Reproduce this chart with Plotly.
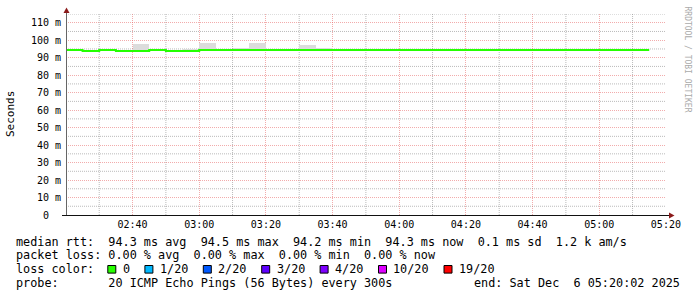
import plotly.graph_objects as go
import pandas as pd

# ---------------- data ----------------
interval_start = list(pd.date_range("2025-12-06 02:20:00", periods=35, freq="5min"))
N, L = 94.4, 93.8
median_ms = [N, L, N, L, L, N, L, L, N, N,
             N, N, N, N, N, N, N, N, N, N,
             N, N, N, N, N, N, N, N, N, N,
             N, N, N, N, N]
smoke_top_ms = [None, None, None, None, 97.6, None, None, 95.1, 98.2, 95.1,
                95.7, 98.2, None, None, 97.0, 95.7, None, None, 95.1, None,
                None, None, None, None, None, 95.1, None, None, 95.1, None,
                None, None, None, None, None]
y_tickvals = [0, 10, 20, 30, 40, 50, 60, 70, 80, 90, 100, 110]
y_ticktext = ["0\u00a0\u00a0"] + [f"{v}\u00a0m" for v in y_tickvals[1:]]
y_minor = [5, 15, 25, 35, 45, 55, 65, 75, 85, 95, 105, 115]
x_minor = list(pd.date_range("2025-12-06 02:30:00", "2025-12-06 05:10:00", freq="20min"))

stats_rows = [
    "median rtt:  94.3 ms avg  94.5 ms max  94.2 ms min  94.3 ms now  0.1 ms sd  1.2 k am/s",
    "packet loss: 0.00 % avg  0.00 % max  0.00 % min  0.00 % now",
]
loss_labels = ["0", "1/20", "2/20", "3/20", "4/20", "10/20", "19/20"]
loss_colors = ["#26ff00", "#00b8ff", "#0059ff", "#5e00ff", "#7e00ff", "#dd00ff", "#ff0000"]
probe_text = "probe:       20 ICMP Echo Pings (56 Bytes) every 300s"
end_text = "end: Sat Dec  6 05:20:02 2025"

# ---------------- layout geometry ----------------
W, H = 697, 297
ML, MR, MT, MB = 66, 31, 14, 82
PW, PH = W - ML - MR, H - MT - MB
FONT = "DejaVu Sans Mono"


def px(x):
    return (x - ML) / PW


def py(y):
    return (H - MB - y) / PH


def nb(s):
    return s.replace(" ", "\u00a0")


step = pd.Timedelta(minutes=5)
line_x = interval_start + [interval_start[-1] + step]
line_y = median_ms + [median_ms[-1]]

bx, bbase, bh = [], [], []
for t, m, s in zip(interval_start, median_ms, smoke_top_ms):
    if s is not None:
        bx.append(t + step / 2)
        bbase.append(m - 0.5)
        bh.append(s - m + 0.5)

fig = go.Figure()
fig.add_trace(go.Bar(x=bx, y=bh, base=bbase, width=300000,
                     marker=dict(color="#dcdcdc", line=dict(width=0)),
                     hoverinfo="skip", showlegend=False))
fig.add_trace(go.Scatter(x=line_x, y=line_y, mode="lines", line_shape="hv",
                         line=dict(color="#26ff00", width=2), showlegend=False))

minor_grid = "rgba(120,120,120,0.5)"
major_grid = "rgba(230,90,90,0.5)"

fig.update_layout(
    width=W, height=H, margin=dict(l=ML, r=MR, t=MT, b=MB),
    paper_bgcolor="white", plot_bgcolor="white",
    font=dict(family=FONT, size=10, color="#000"),
    xaxis=dict(type="date", range=["2025-12-06 02:20:02", "2025-12-06 05:20:02"],
               tick0="2025-12-06 00:00:00", dtick=1200000, tickformat="%H:%M",
               showgrid=True, gridcolor=major_grid, griddash="1px,1px", gridwidth=1,
               ticks="", ticklabelstandoff=2, zeroline=False, showline=False,
               tickfont=dict(family=FONT, size=10)),
    yaxis=dict(range=[0, 115], tickvals=y_tickvals, ticktext=y_ticktext,
               showgrid=True, gridcolor=major_grid, griddash="1px,1px", gridwidth=1,
               ticks="", ticklabelstandoff=4, zeroline=False, showline=False,
               tickfont=dict(family=FONT, size=10)),
    bargap=0,
)

shapes = []
for t in x_minor:
    shapes.append(dict(type="line", xref="x", yref="paper", x0=t, x1=t, y0=0, y1=1,
                       layer="below", line=dict(color=minor_grid, width=1, dash="1px,1px")))
for v in y_minor:
    shapes.append(dict(type="line", xref="paper", yref="y", x0=0, x1=1, y0=v, y1=v,
                       layer="below", line=dict(color=minor_grid, width=1, dash="1px,1px")))

shapes += [
    dict(type="line", xref="paper", yref="paper", x0=px(66.5), x1=px(66.5),
         y0=py(215.5), y1=py(12), line=dict(color="#666666", width=1)),
    dict(type="line", xref="paper", yref="paper", x0=px(62), x1=px(670),
         y0=py(215.5), y1=py(215.5), line=dict(color="#111111", width=1)),
    dict(type="path", xref="paper", yref="paper",
         path=f"M {px(63.5)} {py(13)} L {px(69.5)} {py(13)} L {px(66.5)} {py(7.5)} Z",
         fillcolor="#8b1a1a", line=dict(width=0)),
    dict(type="path", xref="paper", yref="paper",
         path=f"M {px(669)} {py(212.5)} L {px(669)} {py(218.5)} L {px(674.5)} {py(215.5)} Z",
         fillcolor="#8b1a1a", line=dict(width=0)),
]

ann = []
LEG = 11.8
CW = 7.1
row_y = [241.5, 255.3, 269.3, 282.8]
X0 = 16
for i, t in enumerate(stats_rows):
    ann.append(dict(text=nb(t), x=px(X0), y=py(row_y[i]), xref="paper", yref="paper",
                    xanchor="left", yanchor="middle", showarrow=False,
                    font=dict(family=FONT, size=LEG, color="#000"),
                    borderpad=0, borderwidth=0))
ann.append(dict(text=nb("loss color:"), x=px(X0), y=py(row_y[2]), xref="paper", yref="paper",
                xanchor="left", yanchor="middle", showarrow=False,
                font=dict(family=FONT, size=LEG, color="#000"), borderpad=0, borderwidth=0))
bxpos = X0 + 13 * CW - 0.5
for lab, col in zip(loss_labels, loss_colors):
    shapes.append(dict(type="rect", xref="paper", yref="paper",
                       x0=px(bxpos), x1=px(bxpos + 8), y0=py(row_y[2] - 3.8), y1=py(row_y[2] + 3.8),
                       fillcolor=col, line=dict(color="#000", width=1)))
    tx = bxpos + 15
    ann.append(dict(text=nb(lab), x=px(tx), y=py(row_y[2]), xref="paper", yref="paper",
                    xanchor="left", yanchor="middle", showarrow=False,
                    font=dict(family=FONT, size=LEG, color="#000"), borderpad=0, borderwidth=0))
    bxpos = tx + len(lab) * CW + 15
ann.append(dict(text=nb(probe_text), x=px(X0), y=py(row_y[3]), xref="paper", yref="paper",
                xanchor="left", yanchor="middle", showarrow=False,
                font=dict(family=FONT, size=LEG, color="#000"), borderpad=0, borderwidth=0))
ann.append(dict(text=nb(end_text), x=px(680), y=py(row_y[3]), xref="paper", yref="paper",
                xanchor="right", yanchor="middle", showarrow=False,
                font=dict(family=FONT, size=LEG, color="#000"), borderpad=0, borderwidth=0))
ann.append(dict(text="Seconds", x=px(11), y=py(114), xref="paper", yref="paper",
                xanchor="center", yanchor="middle", showarrow=False, textangle=-90,
                font=dict(family=FONT, size=11, color="#000"), borderpad=0, borderwidth=0))
ann.append(dict(text=nb("RRDTOOL / TOBI OETIKER"), x=px(686.5), y=py(59), xref="paper", yref="paper",
                xanchor="center", yanchor="middle", showarrow=False, textangle=90,
                font=dict(family=FONT, size=8, color="#aaaaaa"), borderpad=0, borderwidth=0))

fig.update_layout(shapes=shapes, annotations=ann)
fig.write_html("out.html")
